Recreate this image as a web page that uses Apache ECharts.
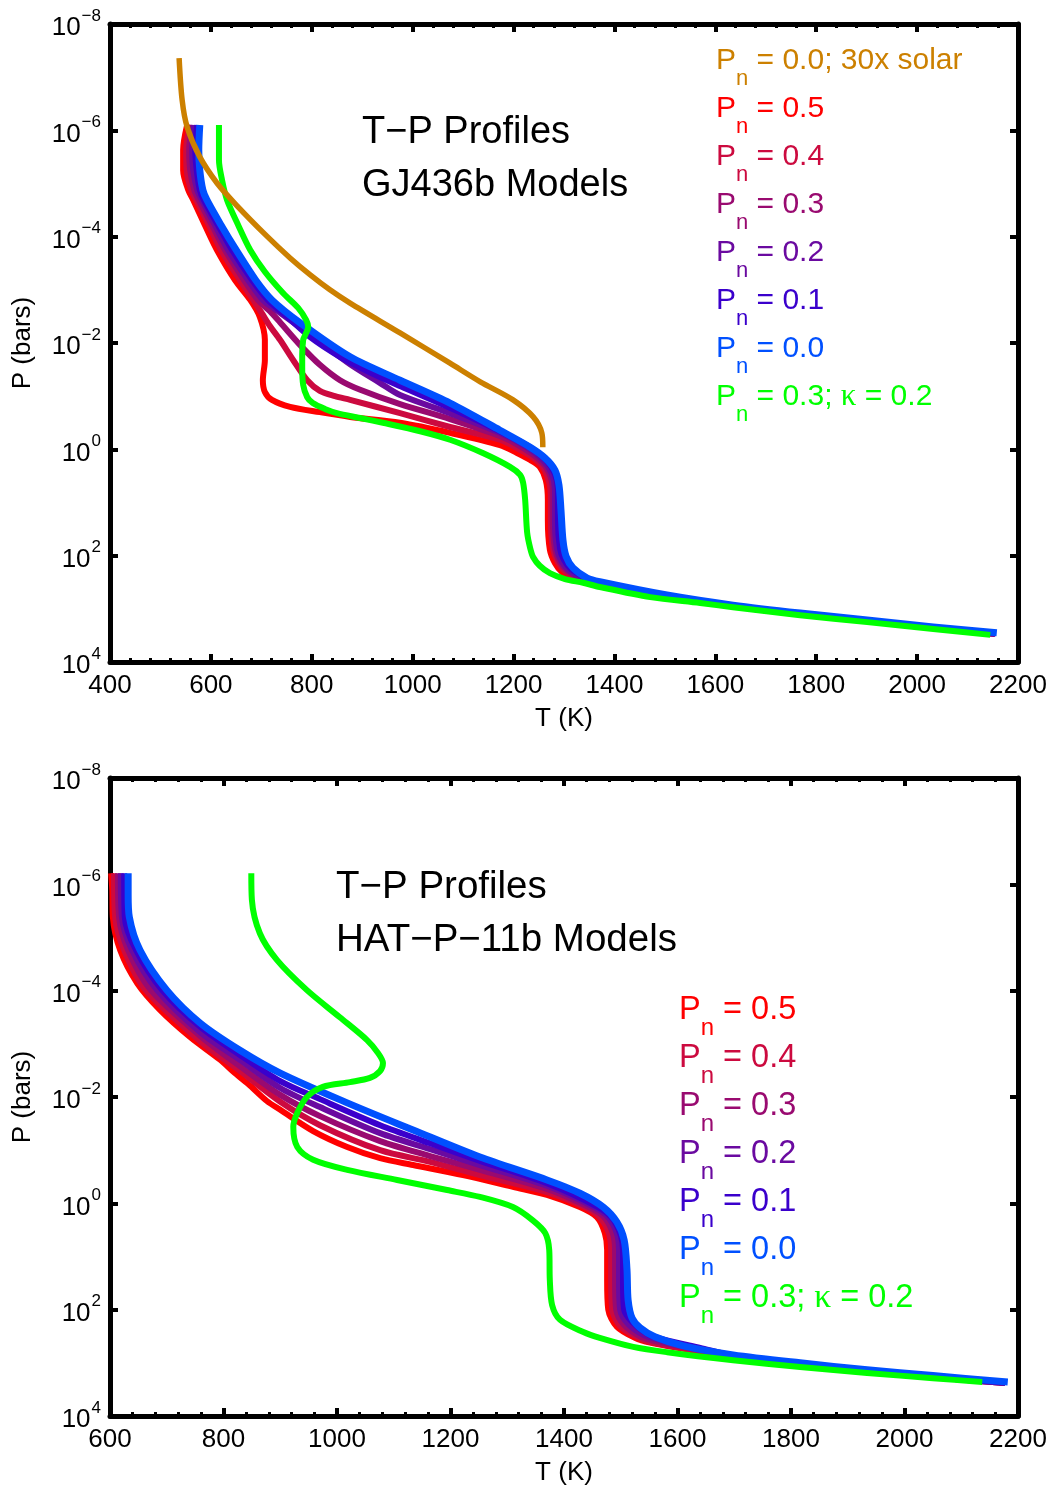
<!DOCTYPE html>
<html><head><meta charset="utf-8">
<script src="https://cdn.jsdelivr.net/npm/echarts@6/dist/echarts.min.js"></script>
<style>html,body{margin:0;padding:0;background:#fff}#c{width:1055px;height:1488px}</style>
</head><body><div id="c"></div>
<script>
// ===== DATA (T in K, logP = log10 of P in bars) =====
// --- Top panel: GJ436b ---
const gj_solar30_T    = [537, 543, 553, 578, 612, 650, 711, 757, 797, 836, 876, 975, 1074, 1134, 1199, 1239, 1256, 1258];
const gj_solar30_logP = [-7.36, -6.57, -6.06, -5.50, -5.01, -4.60, -4.01, -3.60, -3.28, -3.00, -2.75, -2.19, -1.62, -1.27, -0.93, -0.61, -0.31, -0.04];

const gj_pn05_T    = [553, 545, 545, 555, 565, 588, 612, 648, 678, 697, 707, 707, 703, 707, 721, 757, 816, 876, 975, 1074, 1173, 1207, 1233, 1252, 1264, 1268, 1268, 1272, 1282, 1296, 1322, 1352, 1371, 1504, 1635, 1768, 1901, 2032, 2154];
const gj_pn05_logP = [-6.10, -5.63, -5.25, -4.88, -4.69, -4.22, -3.75, -3.18, -2.81, -2.49, -2.06, -1.68, -1.30, -1.08, -0.93, -0.80, -0.70, -0.61, -0.50, -0.31, -0.08, 0.07, 0.20, 0.33, 0.58, 0.95, 1.33, 1.89, 2.14, 2.31, 2.44, 2.53, 2.57, 2.76, 2.95, 3.10, 3.23, 3.36, 3.47];

const gj_pn04_T    = [559, 551, 552, 561, 571, 596, 620, 658, 684, 701, 717, 737, 763, 791, 816, 846, 876, 975, 1074, 1173, 1213, 1245, 1262, 1272, 1274, 1274, 1278, 1288, 1302, 1328, 1371, 1504, 1635, 1768, 1901, 2032, 2154];
const gj_pn04_logP = [-6.10, -5.63, -5.25, -4.88, -4.69, -4.22, -3.75, -3.18, -2.81, -2.56, -2.32, -2.06, -1.68, -1.30, -1.10, -1.00, -0.93, -0.68, -0.42, -0.18, 0.01, 0.20, 0.39, 0.67, 0.95, 1.33, 1.86, 2.12, 2.29, 2.44, 2.55, 2.76, 2.95, 3.10, 3.23, 3.36, 3.47];

const gj_pn03_T    = [563, 557, 559, 567, 576, 602, 628, 666, 693, 717, 737, 777, 816, 856, 896, 975, 1074, 1173, 1213, 1252, 1270, 1278, 1278, 1282, 1292, 1308, 1332, 1371, 1504, 1635, 1768, 1901, 2032, 2154];
const gj_pn03_logP = [-6.10, -5.63, -5.25, -4.88, -4.69, -4.22, -3.75, -3.18, -2.81, -2.60, -2.39, -1.96, -1.59, -1.30, -1.12, -0.85, -0.57, -0.25, -0.06, 0.20, 0.43, 0.76, 1.33, 1.86, 2.12, 2.29, 2.42, 2.53, 2.76, 2.95, 3.10, 3.23, 3.36, 3.47];

const gj_pn02_T    = [567, 563, 565, 573, 582, 608, 634, 674, 703, 727, 757, 816, 876, 935, 975, 1074, 1173, 1223, 1258, 1276, 1282, 1282, 1286, 1296, 1312, 1336, 1371, 1504, 1635, 1768, 1901, 2032, 2154];
const gj_pn02_logP = [-6.10, -5.63, -5.25, -4.88, -4.69, -4.22, -3.75, -3.18, -2.81, -2.64, -2.43, -2.02, -1.60, -1.25, -1.02, -0.68, -0.31, -0.06, 0.20, 0.46, 0.76, 1.33, 1.86, 2.12, 2.29, 2.42, 2.51, 2.76, 2.95, 3.10, 3.23, 3.36, 3.47];

const gj_pn01_T    = [573, 569, 572, 578, 586, 614, 642, 682, 713, 747, 797, 856, 915, 975, 1074, 1173, 1229, 1264, 1282, 1288, 1288, 1292, 1300, 1314, 1340, 1371, 1504, 1635, 1768, 1901, 2032, 2156];
const gj_pn01_logP = [-6.10, -5.63, -5.25, -4.88, -4.69, -4.22, -3.75, -3.18, -2.81, -2.53, -2.11, -1.74, -1.45, -1.19, -0.78, -0.34, -0.06, 0.20, 0.46, 0.76, 1.33, 1.86, 2.08, 2.25, 2.40, 2.51, 2.75, 2.94, 3.09, 3.22, 3.35, 3.46];

const gj_pn00_T    = [578, 576, 578, 584, 592, 620, 650, 689, 721, 777, 876, 975, 1074, 1173, 1233, 1262, 1282, 1290, 1294, 1298, 1304, 1318, 1346, 1371, 1504, 1635, 1768, 1901, 2032, 2158];
const gj_pn00_logP = [-6.10, -5.63, -5.25, -4.88, -4.69, -4.22, -3.75, -3.18, -2.81, -2.38, -1.74, -1.30, -0.87, -0.36, -0.04, 0.16, 0.39, 0.67, 1.14, 1.71, 2.01, 2.23, 2.42, 2.49, 2.74, 2.93, 3.08, 3.21, 3.34, 3.45];

const gj_kappa_T    = [616, 616, 622, 632, 654, 678, 707, 743, 773, 789, 793, 787, 783, 781, 781, 783, 791, 802, 826, 850, 896, 941, 1015, 1074, 1139, 1193, 1213, 1219, 1223, 1227, 1233, 1239, 1252, 1272, 1302, 1338, 1371, 1471, 1570, 1635, 1768, 1901, 2032, 2145];
const gj_kappa_logP = [-6.10, -5.44, -5.07, -4.69, -4.22, -3.75, -3.34, -2.94, -2.66, -2.43, -2.30, -2.15, -2.06, -1.77, -1.55, -1.21, -0.98, -0.87, -0.76, -0.68, -0.59, -0.50, -0.34, -0.18, 0.07, 0.33, 0.48, 0.63, 0.95, 1.57, 1.86, 2.03, 2.19, 2.33, 2.44, 2.51, 2.59, 2.78, 2.89, 2.97, 3.12, 3.25, 3.38, 3.49];

// --- Bottom panel: HAT-P-11b ---
const hat_pn05_T    = [602, 604, 605, 618, 648, 688, 741, 794, 820, 847, 877, 900, 958, 1018, 1076, 1134, 1222, 1310, 1370, 1428, 1458, 1472, 1476, 1476, 1478, 1493, 1525, 1552, 1640, 1698, 1816, 1934, 2050, 2177];
const hat_pn05_logP = [-6.21, -5.89, -5.39, -4.76, -4.14, -3.64, -3.13, -2.70, -2.45, -2.21, -1.92, -1.76, -1.36, -1.06, -0.85, -0.72, -0.53, -0.31, -0.16, 0.07, 0.26, 0.56, 0.88, 1.44, 2.00, 2.32, 2.53, 2.62, 2.79, 2.89, 3.02, 3.15, 3.26, 3.37];

const hat_pn04_T    = [607, 609, 625, 663, 759, 829, 900, 970, 1076, 1164, 1252, 1370, 1437, 1463, 1479, 1483, 1483, 1485, 1499, 1529, 1552, 1640, 1698, 1816, 1934, 2050, 2177];
const hat_pn04_logP = [-6.21, -5.39, -4.76, -4.01, -3.05, -2.49, -1.91, -1.47, -1.00, -0.78, -0.53, -0.21, 0.07, 0.26, 0.56, 0.88, 1.44, 2.00, 2.31, 2.51, 2.61, 2.78, 2.87, 3.02, 3.15, 3.27, 3.38];

const hat_pn03_T    = [614, 616, 632, 672, 759, 829, 900, 970, 1076, 1164, 1252, 1370, 1444, 1471, 1486, 1490, 1490, 1492, 1506, 1534, 1560, 1640, 1698, 1816, 1934, 2050, 2177];
const hat_pn03_logP = [-6.21, -5.39, -4.76, -4.01, -3.15, -2.58, -2.04, -1.64, -1.17, -0.89, -0.63, -0.27, 0.07, 0.26, 0.56, 0.88, 1.44, 2.00, 2.29, 2.50, 2.59, 2.76, 2.87, 3.02, 3.15, 3.27, 3.38];

const hat_pn02_T    = [619, 621, 639, 683, 759, 829, 900, 970, 1076, 1164, 1252, 1370, 1453, 1478, 1493, 1497, 1497, 1499, 1513, 1541, 1569, 1640, 1698, 1816, 1934, 2050, 2177];
const hat_pn02_logP = [-6.21, -5.39, -4.76, -4.01, -3.22, -2.70, -2.17, -1.81, -1.32, -1.02, -0.72, -0.33, 0.07, 0.26, 0.56, 0.88, 1.44, 2.00, 2.27, 2.48, 2.57, 2.74, 2.87, 3.02, 3.15, 3.27, 3.38];

const hat_pn01_T    = [625, 626, 646, 692, 759, 829, 900, 970, 1076, 1164, 1252, 1370, 1460, 1485, 1500, 1504, 1504, 1506, 1520, 1548, 1578, 1640, 1698, 1816, 1934, 2050, 2177];
const hat_pn01_logP = [-6.21, -5.39, -4.76, -4.01, -3.32, -2.79, -2.30, -1.96, -1.47, -1.13, -0.80, -0.38, 0.07, 0.28, 0.60, 0.88, 1.44, 2.00, 2.23, 2.46, 2.57, 2.72, 2.86, 3.01, 3.14, 3.26, 3.37];

const hat_pn00_T    = [632, 632, 634, 653, 700, 759, 829, 900, 1018, 1134, 1252, 1370, 1428, 1469, 1493, 1506, 1511, 1513, 1520, 1534, 1560, 1610, 1698, 1816, 1934, 2050, 2182];
const hat_pn00_logP = [-6.21, -5.80, -5.39, -4.76, -4.01, -3.39, -2.88, -2.45, -1.89, -1.38, -0.87, -0.44, -0.19, 0.07, 0.35, 0.69, 1.25, 1.82, 2.16, 2.34, 2.51, 2.68, 2.85, 3.00, 3.13, 3.24, 3.36];

const hat_kappa_T    = [849, 850, 864, 894, 947, 1005, 1053, 1072, 1081, 1076, 1058, 1023, 975, 947, 930, 923, 930, 958, 1018, 1106, 1194, 1252, 1310, 1345, 1367, 1374, 1375, 1379, 1393, 1434, 1463, 1522, 1582, 1698, 1816, 1934, 2050, 2137];
const hat_kappa_logP = [-6.21, -5.71, -5.08, -4.58, -4.01, -3.50, -3.07, -2.83, -2.64, -2.49, -2.36, -2.28, -2.19, -2.00, -1.70, -1.44, -1.06, -0.82, -0.63, -0.44, -0.25, -0.12, 0.07, 0.32, 0.56, 0.88, 1.44, 1.91, 2.19, 2.42, 2.53, 2.70, 2.80, 2.95, 3.08, 3.19, 3.29, 3.36];

// Axis ranges / ticks
const topTRange = [400, 2200];
const botTRange = [600, 2200];
const logPRange = [-8, 4];
const tStep = 200;
const logPStep = 2;

// Series names (legend text)
const N_SOLAR = 'Pn = 0.0; 30x solar';
const N05 = 'Pn = 0.5', N04 = 'Pn = 0.4', N03 = 'Pn = 0.3', N02 = 'Pn = 0.2', N01 = 'Pn = 0.1', N00 = 'Pn = 0.0';
const N_KAPPA = 'Pn = 0.3; κ = 0.2';

// ===== STYLE =====
const FONT = '"Liberation Sans", Arial, Helvetica, sans-serif';
const SERIF = '"Liberation Serif", "DejaVu Serif", serif';
const COLOR = {};
COLOR[N_SOLAR] = '#CC8000';
COLOR[N05] = '#FF0000';
COLOR[N04] = '#CC0A3F';
COLOR[N03] = '#990A70';
COLOR[N02] = '#6A0AA0';
COLOR[N01] = '#3A00CC';
COLOR[N00] = '#0050FF';
COLOR[N_KAPPA] = '#00FF00';

const RICH_LABEL = {};
RICH_LABEL[N_SOLAR] = '{p|P}{n|n}{p| = 0.0; 30x solar}';
RICH_LABEL[N05] = '{p|P}{n|n}{p| = 0.5}';
RICH_LABEL[N04] = '{p|P}{n|n}{p| = 0.4}';
RICH_LABEL[N03] = '{p|P}{n|n}{p| = 0.3}';
RICH_LABEL[N02] = '{p|P}{n|n}{p| = 0.2}';
RICH_LABEL[N01] = '{p|P}{n|n}{p| = 0.1}';
RICH_LABEL[N00] = '{p|P}{n|n}{p| = 0.0}';
RICH_LABEL[N_KAPPA] = '{p|P}{n|n}{p| = 0.3; }{k|κ}{p| = 0.2}';

function series(name, T, L, xi, yi, width) {
  return {
    name: name, type: 'line', xAxisIndex: xi, yAxisIndex: yi,
    data: T.map((t, i) => [t, L[i]]),
    showSymbol: false, symbol: 'none', smooth: 0.3,
    lineStyle: { color: COLOR[name], width: width || 6, cap: 'butt', join: 'round' },
    itemStyle: { color: COLOR[name] },
    emphasis: { disabled: true }, silent: true, animation: false
  };
}

const axisLine = { show: true, onZero: false, lineStyle: { color: '#000', width: 5 } };
const axisTick = { show: true, inside: true, length: 8, lineStyle: { color: '#000', width: 4 } };
const minorTick = { show: true, splitNumber: 5, length: 4, lineStyle: { color: '#000', width: 3 } };

function xAxes(gi, range) {
  return [
    { gridIndex: gi, type: 'value', position: 'bottom', min: range[0], max: range[1], interval: tStep,
      axisLine: axisLine, axisTick: axisTick, minorTick: minorTick, splitLine: { show: false }, minorSplitLine: { show: false },
      axisLabel: { show: true, color: '#000', fontSize: 26, fontFamily: FONT, margin: 11, showMinLabel: true, showMaxLabel: true,
        formatter: function (v) { return String(v); } },
      name: 'T (K)', nameLocation: 'middle', nameGap: 44, nameMoveOverlap: false,
      nameTextStyle: { color: '#000', fontSize: 26, fontFamily: FONT } },
    { gridIndex: gi, type: 'value', position: 'top', min: range[0], max: range[1], interval: tStep,
      axisLine: axisLine, axisTick: axisTick, minorTick: minorTick, splitLine: { show: false },
      axisLabel: { show: false } }
  ];
}

function expLabel(v) {
  const e = Math.round(v);
  const s = e < 0 ? '\u2212' + (-e) : String(e);
  return '{a|10}{s|' + s + '}';
}

function yAxes(gi) {
  return [
    { gridIndex: gi, type: 'value', position: 'left', min: logPRange[0], max: logPRange[1], interval: logPStep, inverse: true,
      axisLine: axisLine, axisTick: axisTick, splitLine: { show: false },
      axisLabel: { show: true, color: '#000', margin: 9, formatter: expLabel, showMinLabel: true, showMaxLabel: true,
        rich: {
          a: { fontSize: 26, fontFamily: FONT, color: '#000', lineHeight: 28, padding: [8, 0, 0, 0] },
          s: { fontSize: 17, fontFamily: FONT, color: '#000', lineHeight: 20, padding: [0, 0, 16, 1] }
        } },
      name: 'P (bars)', nameLocation: 'middle', nameGap: 74, nameRotate: 90, nameMoveOverlap: false,
      nameTextStyle: { color: '#000', fontSize: 26, fontFamily: FONT } },
    { gridIndex: gi, type: 'value', position: 'right', min: logPRange[0], max: logPRange[1], interval: logPStep, inverse: true,
      axisLine: axisLine, axisTick: axisTick, splitLine: { show: false }, axisLabel: { show: false } }
  ];
}

function legendRich(fs, subFs) {
  return {
    p: { fontSize: fs, fontFamily: FONT, lineHeight: 36, padding: [0, 0, 12, 0] },
    n: { fontSize: subFs, fontFamily: FONT, lineHeight: 24, padding: [24, 0, 0, 0] },
    k: { fontSize: fs + 1, fontFamily: SERIF, lineHeight: 36, padding: [0, 0, 12, 0] }
  };
}

function legend(names, left, top, fs, subFs, gap) {
  return {
    type: 'plain', orient: 'vertical', left: left, top: top, padding: 0, itemGap: gap,
    itemWidth: 0, itemHeight: 0, icon: 'none', selectedMode: false,
    textStyle: { fontFamily: FONT, fontSize: fs, rich: legendRich(fs, subFs) },
    formatter: function (name) { return RICH_LABEL[name]; },
    data: names.map(n => ({ name: n, icon: 'none', textStyle: { color: COLOR[n] } }))
  };
}

function note(x, y, text, fs) {
  return { type: 'text', x: x, y: y, silent: true,
    style: { text: text, fill: '#000', fontSize: fs, fontFamily: FONT, verticalAlign: 'middle', align: 'left' } };
}

const chart = echarts.init(document.getElementById('c'), null, { renderer: 'canvas' });
chart.setOption({
  animation: false,
  backgroundColor: '#fff',
  textStyle: { fontFamily: FONT },
  grid: [
    { left: 110, top: 24, width: 908, height: 638, containLabel: false },
    { left: 110, top: 778, width: 908, height: 638, containLabel: false }
  ],
  xAxis: xAxes(0, topTRange).concat(xAxes(1, botTRange)),
  yAxis: yAxes(0).concat(yAxes(1)),
  legend: [
    legend([N_SOLAR, N05, N04, N03, N02, N01, N00, N_KAPPA], 711, 44, 30, 22, 2),
    legend([N05, N04, N03, N02, N01, N00, N_KAPPA], 674, 992, 32.5, 24, 0)
  ],
  graphic: [
    note(362, 133, 'T\u2212P Profiles', 38),
    note(362, 186, 'GJ436b Models', 38),
    note(336, 887, 'T\u2212P Profiles', 38.5),
    note(336, 940, 'HAT\u2212P\u221211b Models', 38.5)
  ],
  series: [
    series(N05, gj_pn05_T, gj_pn05_logP, 0, 0),
    series(N04, gj_pn04_T, gj_pn04_logP, 0, 0),
    series(N03, gj_pn03_T, gj_pn03_logP, 0, 0),
    series(N02, gj_pn02_T, gj_pn02_logP, 0, 0),
    series(N01, gj_pn01_T, gj_pn01_logP, 0, 0),
    series(N00, gj_pn00_T, gj_pn00_logP, 0, 0, 7),
    series(N_KAPPA, gj_kappa_T, gj_kappa_logP, 0, 0),
    series(N_SOLAR, gj_solar30_T, gj_solar30_logP, 0, 0, 5.5),
    series(N05, hat_pn05_T, hat_pn05_logP, 2, 2),
    series(N04, hat_pn04_T, hat_pn04_logP, 2, 2),
    series(N03, hat_pn03_T, hat_pn03_logP, 2, 2),
    series(N02, hat_pn02_T, hat_pn02_logP, 2, 2),
    series(N01, hat_pn01_T, hat_pn01_logP, 2, 2),
    series(N00, hat_pn00_T, hat_pn00_logP, 2, 2, 7),
    series(N_KAPPA, hat_kappa_T, hat_kappa_logP, 2, 2)
  ]
});
</script></body></html>
